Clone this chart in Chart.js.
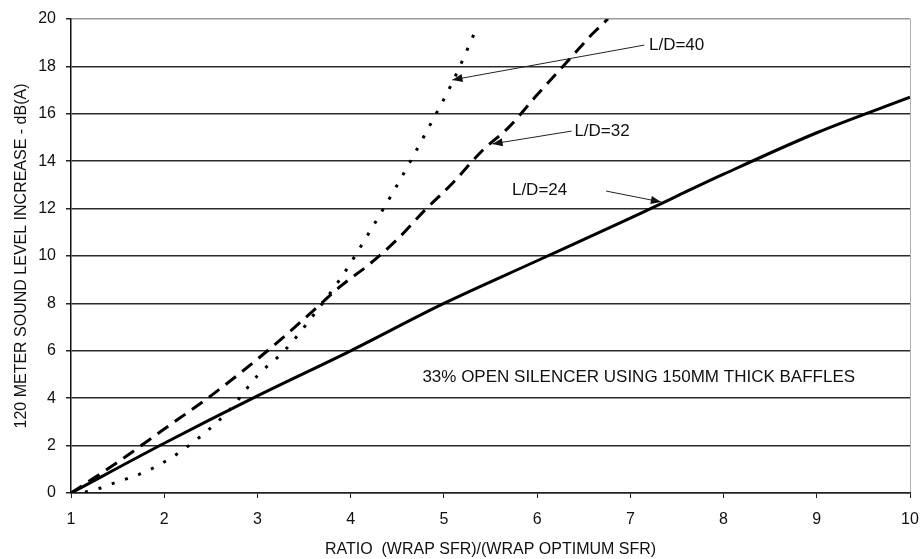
<!DOCTYPE html>
<html>
<head>
<meta charset="utf-8">
<script src="https://cdn.jsdelivr.net/npm/chart.js@4.4.1/dist/chart.umd.min.js"></script>
<style>
  html, body { margin: 0; padding: 0; background: #fff; }
  #wrap { width: 920px; height: 559px; }
</style>
</head>
<body>
<div id="wrap"><canvas id="chart" width="920" height="559"></canvas></div>
<script>
// L/D=24 (solid)
const ratio24 = [1, 2, 3, 4, 5, 6, 7, 8, 9, 10];
const db24 = [0, 2.1, 4.1, 6.0, 8.0, 9.8, 11.6, 13.45, 15.2, 16.7];

// L/D=32 (dashed)
const ratio32 = [1, 1.5, 2, 2.5, 3, 3.3, 3.6, 3.9, 4.2, 4.5, 4.8, 5.1, 5.4, 5.7, 6.0, 6.3, 6.6, 6.76];
const db32 = [0, 1.3, 2.7, 4.1, 5.65, 6.65, 7.7, 8.75, 9.65, 10.7, 11.95, 13.1, 14.4, 15.45, 16.8, 18.1, 19.4, 20.0];

// L/D=40 (dotted)
const ratio40 = [1, 1.2, 1.5, 1.8, 2.1, 2.4, 2.7, 3.0, 3.3, 3.6, 3.9, 4.2, 4.5, 4.8, 5.1, 5.35];
const db40 = [0, 0.08, 0.47, 0.9, 1.55, 2.42, 3.5, 4.95, 6.05, 7.5, 9.1, 11.0, 13.0, 15.15, 17.4, 19.6];

// callout labels and arrows (data coords)
const calloutText = ["L/D=40", "L/D=32", "L/D=24"];
const calloutX = [7.2, 6.4, 5.73];
const calloutY = [18.9, 15.27, 12.78];
const arrowFromX = [7.15, 6.37, 6.74];
const arrowFromY = [18.9, 15.27, 12.74];
const arrowToX = [5.09, 5.52, 7.33];
const arrowToY = [17.43, 14.73, 12.28];

const noteText = "33% OPEN SILENCER USING 150MM THICK BAFFLES";
const noteX = 7.09, noteY = 4.9;

const FONT = "'Liberation Sans', Arial, sans-serif";

const toPoints = (xs, ys) => xs.map((x, i) => ({ x: x, y: ys[i] }));

const callouts = {
  id: "callouts",
  afterDatasetsDraw(chart) {
    const { ctx, scales: { x, y } } = chart;
    ctx.save();
    ctx.fillStyle = "#111";
    ctx.strokeStyle = "#222";
    ctx.font = "17px " + FONT;
    ctx.textBaseline = "middle";

    calloutText.forEach((t, i) => {
      ctx.textAlign = "left";
      ctx.fillText(t, x.getPixelForValue(calloutX[i]), y.getPixelForValue(calloutY[i]));

      const x0 = x.getPixelForValue(arrowFromX[i]), y0 = y.getPixelForValue(arrowFromY[i]);
      const x1 = x.getPixelForValue(arrowToX[i]), y1 = y.getPixelForValue(arrowToY[i]);
      ctx.lineWidth = 1;
      ctx.beginPath();
      ctx.moveTo(x0, y0);
      ctx.lineTo(x1, y1);
      ctx.stroke();
      // arrow head
      const a = Math.atan2(y1 - y0, x1 - x0);
      const len = 11, w = 0.38;
      ctx.beginPath();
      ctx.moveTo(x1, y1);
      ctx.lineTo(x1 - len * Math.cos(a - w), y1 - len * Math.sin(a - w));
      ctx.lineTo(x1 - len * Math.cos(a + w), y1 - len * Math.sin(a + w));
      ctx.closePath();
      ctx.fill();
    });

    ctx.textAlign = "center";
    ctx.fillText(noteText, x.getPixelForValue(noteX), y.getPixelForValue(noteY));
    ctx.restore();
  }
};

new Chart(document.getElementById("chart"), {
  type: "scatter",
  data: {
    datasets: [
      {
        label: "L/D=24",
        data: toPoints(ratio24, db24),
        showLine: true,
        borderColor: "#000",
        borderWidth: 3,
        pointRadius: 0,
        cubicInterpolationMode: "monotone"
      },
      {
        label: "L/D=32",
        data: toPoints(ratio32, db32),
        showLine: true,
        borderColor: "#000",
        borderWidth: 3,
        borderDash: [13, 8],
        pointRadius: 0,
        cubicInterpolationMode: "monotone"
      },
      {
        label: "L/D=40",
        data: toPoints(ratio40, db40),
        showLine: true,
        borderColor: "#000",
        borderWidth: 3,
        borderDash: [3, 11],
        pointRadius: 0,
        cubicInterpolationMode: "monotone"
      }
    ]
  },
  options: {
    responsive: false,
    animation: false,
    layout: { padding: { top: 19, right: 10, left: 0, bottom: 0 } },
    plugins: {
      legend: { display: false },
      tooltip: { enabled: false }
    },
    scales: {
      x: {
        type: "linear",
        min: 1,
        max: 10,
        afterFit(scale) {
          scale.height = 66;
          scale.paddingLeft = 0;
          scale.paddingRight = 0;
        },
        ticks: {
          stepSize: 1,
          color: "#111",
          padding: 12,
          font: { family: FONT, size: 16 }
        },
        grid: {
          color: ctx => ctx.tick && ctx.tick.value === 10 ? "#b0b0b0" : "rgba(0,0,0,0)",
          tickColor: "#222",
          tickLength: 5,
          lineWidth: 1
        },
        border: { color: "#222", width: 1.5 },
        title: {
          display: true,
          text: "RATIO  (WRAP SFR)/(WRAP OPTIMUM SFR)",
          color: "#111",
          padding: { top: 0, bottom: 0 },
          font: { family: FONT, size: 16 }
        }
      },
      y: {
        min: 0,
        max: 20,
        afterFit(scale) {
          scale.width = 71;
          scale.paddingTop = 0;
          scale.paddingBottom = 0;
        },
        ticks: {
          stepSize: 2,
          color: "#111",
          padding: 10,
          font: { family: FONT, size: 16 }
        },
        grid: {
          color: ctx => ctx.tick && ctx.tick.value === 20 ? "#999" : "#2a2a2a",
          tickColor: "#222",
          tickLength: 5,
          lineWidth: 1.5
        },
        border: { color: "#111", width: 1.5 },
        title: {
          display: true,
          text: "120 METER SOUND LEVEL INCREASE - dB(A)",
          color: "#111",
          padding: { top: 12, bottom: 0 },
          font: { family: FONT, size: 16 }
        }
      }
    }
  },
  plugins: [callouts]
});
</script>
</body>
</html>
